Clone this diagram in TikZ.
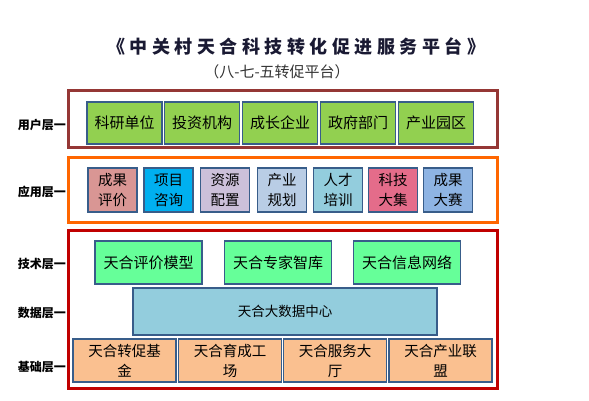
\documentclass[tikz,border=0pt]{standalone}
\usepackage{fontspec}
\setmainfont{Noto Sans CJK SC}
\newfontfamily\titlefont[LetterSpace=25]{Noto Sans CJK SC}
\definecolor{userred}{HTML}{953735}
\definecolor{apporange}{HTML}{FF6600}
\definecolor{techred}{HTML}{C00000}
\definecolor{innerblue}{HTML}{385D8A}
\definecolor{usergreen}{HTML}{92D050}
\definecolor{appA}{HTML}{D99694}
\definecolor{appB}{HTML}{00B0F0}
\definecolor{appC}{HTML}{CCC0DA}
\definecolor{appD}{HTML}{B9CDE5}
\definecolor{appE}{HTML}{93CDDD}
\definecolor{appF}{HTML}{E46C8A}
\definecolor{appG}{HTML}{8EB4E3}
\definecolor{techgreen}{HTML}{66FF99}
\definecolor{datablue}{HTML}{93CDDD}
\definecolor{baseorange}{HTML}{FAC090}
\definecolor{titlenavy}{HTML}{1A1A33}
\tikzset{
  outerbox/.style={draw, line width=3pt, fill=white},
  innerbox/.style={draw=innerblue, line width=1.5pt, align=center, inner sep=0pt, text=black},
  userbox/.style={innerbox, fill=usergreen, minimum width=75pt, minimum height=42pt, font=\fontsize{15}{17}\selectfont},
  appbox/.style={innerbox, minimum width=49pt, minimum height=44pt, font=\fontsize{14.5}{20}\selectfont},
  techbox/.style={innerbox, fill=techgreen, minimum width=107pt, minimum height=43pt, font=\fontsize{15}{17}\selectfont},
  databox/.style={innerbox, fill=datablue, minimum width=304pt, minimum height=47pt, font=\fontsize{13.5}{15}\selectfont},
  basebox/.style={innerbox, fill=baseorange, minimum width=103pt, minimum height=43pt, font=\fontsize{14.5}{20}\selectfont},
  layerlabel/.style={anchor=east, inner sep=0pt, font=\fontsize{12}{14}\selectfont\bfseries}
}
\begin{document}
\begin{tikzpicture}[x=1pt, y=-1pt]
\useasboundingbox (0,0) rectangle (589,401);
% title
\node[text=titlenavy, font=\fontsize{18}{20}\selectfont\bfseries\titlefont] (title) at (296,47) {《中关村天合科技转化促进服务平台》};
\node[text=black!80, font=\fontsize{15}{17}\selectfont] (subtitle) at (277,72) {（八-七-五转促平台）};
% outer frames
\draw[outerbox, draw=userred] (68,91) rectangle (497,148);
\draw[outerbox, draw=apporange] (68,158) rectangle (497,222);
\draw[outerbox, draw=techred] (68,230) rectangle (497,388);
% labels
\node[layerlabel] (l1) at (66,125) {用户层一};
\node[layerlabel] (l2) at (66,192) {应用层一};
\node[layerlabel] (l3) at (66,264) {技术层一};
\node[layerlabel] (l4) at (66,313) {数据层一};
\node[layerlabel] (l5) at (66,367) {基础层一};
% user layer
\node[userbox] (u1) at (124.5,123) {科研单位};
\node[userbox] (u2) at (202,123) {投资机构};
\node[userbox] (u3) at (280,123) {成长企业};
\node[userbox] (u4) at (358,123) {政府部门};
\node[userbox] (u5) at (436,123) {产业园区};
% application layer
\node[appbox, fill=appA] (a1) at (112.5,190) {成果\\评价};
\node[appbox, fill=appB] (a2) at (168.5,190) {项目\\咨询};
\node[appbox, fill=appC] (a3) at (225,190) {资源\\配置};
\node[appbox, fill=appD] (a4) at (282,190) {产业\\规划};
\node[appbox, fill=appE] (a5) at (338,190) {人才\\培训};
\node[appbox, fill=appF] (a6) at (393,190) {科技\\大集};
\node[appbox, fill=appG] (a7) at (448,190) {成果\\大赛};
% technology layer
\node[techbox] (t1) at (148.5,262.5) {天合评价模型};
\node[techbox] (t2) at (278,262.5) {天合专家智库};
\node[techbox] (t3) at (407,262.5) {天合信息网络};
% data layer
\node[databox] (d1) at (285,311.5) {天合大数据中心};
% base layer
\node[basebox] (b1) at (124.5,360.5) {天合转促基\\金};
\node[basebox] (b2) at (230,360.5) {天合育成工\\场};
\node[basebox] (b3) at (335,360.5) {天合服务大\\厅};
\node[basebox] (b4) at (440.5,360.5) {天合产业联\\盟};
\end{tikzpicture}
\end{document}
